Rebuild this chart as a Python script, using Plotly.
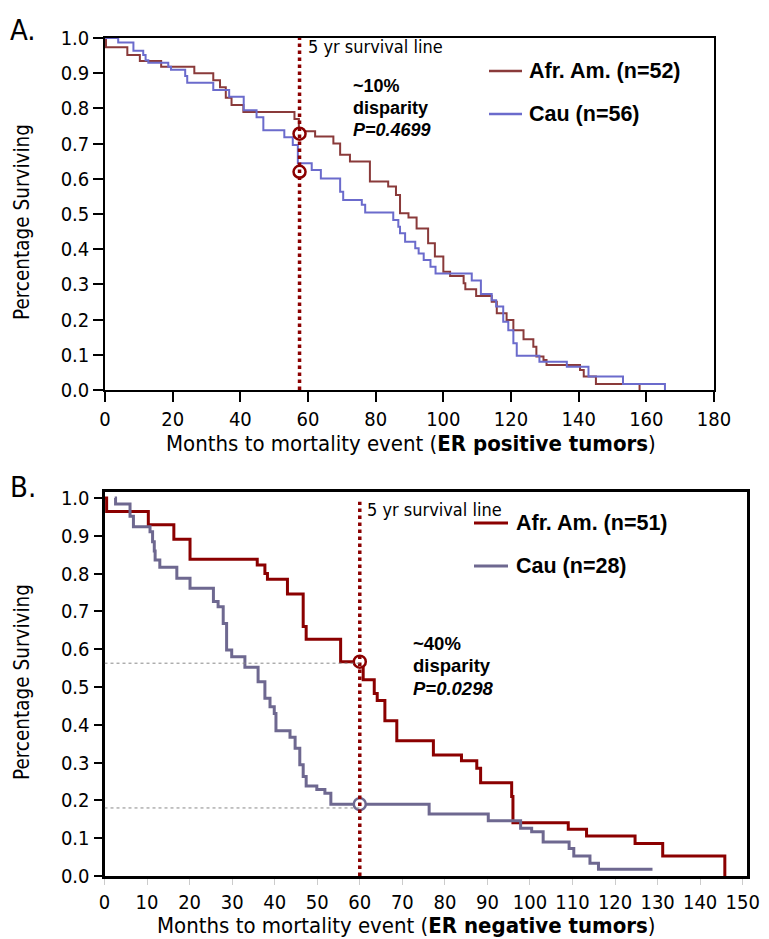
import plotly.graph_objects as go

# ---------------- Data ----------------
# Panel A: ER positive tumors
a_afr_t = [0, 0.3, 6.6, 10.3, 16.6, 26.4, 32, 34, 35.7, 37.4, 40.9, 56, 57.3, 62.1, 67.5, 69.5,
           72.4, 78.3, 83.7, 86, 87.2, 89.7, 92.1, 95.5, 97.5, 100, 102, 106, 106.5, 109.7,
           114.3, 115.8, 118.7, 120.7, 123.7, 126.6, 127.5, 129.6, 130.5, 140.4, 141.5, 145.1, 158]
a_afr_s = [1.0, 0.974, 0.952, 0.935, 0.918, 0.90, 0.88, 0.86, 0.83, 0.81, 0.79, 0.77, 0.735, 0.72, 0.70, 0.668,
           0.649, 0.592, 0.578, 0.554, 0.502, 0.49, 0.459, 0.417, 0.379, 0.336, 0.324, 0.303, 0.286, 0.267,
           0.251, 0.218, 0.199, 0.17, 0.144, 0.123, 0.095, 0.085, 0.071, 0.057, 0.038, 0.017, 0.0]
a_cau_t = [0, 3.9, 8.4, 11.3, 12, 12.8, 18.7, 19.5, 23.7, 24.3, 32, 36.7, 41, 44.8, 46.8, 53, 55.5, 57,
           61.1, 63.8, 69.5, 70.4, 75.9, 76.9, 85.2, 86.7, 87.2, 88.7, 91.7, 92.7, 94.2, 96.2, 97.7,
           108.4, 111.1, 114.3, 115.6, 117.7, 119.2, 120.7, 121.7, 128.4, 136.5, 142.9, 153.1, 165.5]
a_cau_s = [1.0, 0.987, 0.964, 0.952, 0.937, 0.93, 0.918, 0.91, 0.892, 0.873, 0.852, 0.833, 0.795, 0.775, 0.738, 0.718, 0.696, 0.644,
           0.625, 0.601, 0.563, 0.54, 0.526, 0.504, 0.483, 0.464, 0.445, 0.421, 0.403, 0.388, 0.369, 0.35, 0.331,
           0.311, 0.273, 0.255, 0.237, 0.194, 0.17, 0.133, 0.097, 0.08, 0.066, 0.038, 0.017, 0.0]

# Panel B: ER negative tumors
b_afr_t = [0, 0.5, 10.3, 16.3, 20.1, 35.9, 37.7, 38.3, 43.0, 46.7, 47.4, 55.5, 60.8, 63.4, 64.1, 65.9,
           68.7, 77.3, 83.9, 87.5, 88.4, 95.7, 96.0, 109.0, 113.3, 124.7, 131.2, 145.8]
b_afr_s = [1.0, 0.964, 0.929, 0.891, 0.838, 0.823, 0.80, 0.785, 0.746, 0.66, 0.626, 0.567, 0.519, 0.483, 0.464, 0.411,
           0.358, 0.32, 0.305, 0.285, 0.247, 0.21, 0.141, 0.124, 0.106, 0.086, 0.053, 0.0]
b_cau_t = [2.4, 2.6, 6.0, 6.8, 10.7, 11.3, 11.7, 11.9, 13.0, 17.0, 20.1, 25.6, 26.7, 27.9, 28.7, 29.9,
           33.0, 36.1, 37.7, 38.9, 39.9, 40.3, 43.6, 44.8, 45.9, 46.7, 47.4, 49.9, 51.8, 53.2,
           76.3, 90.2, 97.8, 100.4, 103.1, 109.2, 110.3, 114.1, 116.1, 128.8]
b_cau_s = [1.0, 0.984, 0.952, 0.924, 0.911, 0.884, 0.86, 0.836, 0.817, 0.788, 0.761, 0.726, 0.712, 0.668, 0.598, 0.58,
           0.552, 0.514, 0.47, 0.448, 0.43, 0.384, 0.367, 0.338, 0.294, 0.263, 0.238, 0.229, 0.219, 0.19,
           0.164, 0.146, 0.126, 0.117, 0.09, 0.073, 0.053, 0.034, 0.018, 0.018]

a_five_yr = 57.5
a_circle_s = [0.728, 0.62]
b_five_yr = 60
b_circle_afr = 0.567
b_circle_cau = 0.19
b_ref_levels = [0.563, 0.18]

a_xticks = list(range(0, 181, 20))
b_xticks = list(range(0, 151, 10))
yticks = [round(i * 0.1, 1) for i in range(11)]

# ---------------- Styling ----------------
W, H = 769, 939
OFF = 8  # page body margin offset
NARROW = "DejaVu Sans Condensed, Liberation Sans Narrow, Arial Narrow, sans-serif"
SANS = "Liberation Sans, Arial, Helvetica, sans-serif"
A_RED = "#8a3a3a"
A_BLUE = "#6b6bcc"
B_RED = "#8b0000"
B_BLUE = "#6e6890"
DRED = "#8b0000"


def px(x):
    return (x - OFF) / W


def py(y):
    return 1 - (y - OFF) / H


fig = go.Figure()

# Panel A traces
fig.add_trace(go.Scatter(x=a_afr_t, y=a_afr_s, mode="lines", line=dict(shape="hv", color=A_RED, width=2),
                         xaxis="x", yaxis="y", showlegend=False))
fig.add_trace(go.Scatter(x=a_cau_t, y=a_cau_s, mode="lines", line=dict(shape="hv", color=A_BLUE, width=2),
                         xaxis="x", yaxis="y", showlegend=False))
# Panel B traces
fig.add_trace(go.Scatter(x=b_afr_t, y=b_afr_s, mode="lines", line=dict(shape="hv", color=B_RED, width=3),
                         xaxis="x2", yaxis="y2", showlegend=False))
fig.add_trace(go.Scatter(x=b_cau_t, y=b_cau_s, mode="lines", line=dict(shape="hv", color=B_BLUE, width=3),
                         xaxis="x2", yaxis="y2", showlegend=False))

shapes = []
# 5-yr survival lines
shapes.append(dict(type="line", xref="x", yref="y", x0=a_five_yr, x1=a_five_yr, y0=0, y1=1.0,
                   line=dict(color=DRED, width=3.5, dash="dot")))
shapes.append(dict(type="line", xref="x2", yref="y2", x0=b_five_yr, x1=b_five_yr, y0=0, y1=0.99,
                   line=dict(color=DRED, width=3.5, dash="dot")))
# reference dotted lines B
for lv in b_ref_levels:
    shapes.append(dict(type="line", xref="x2", yref="y2", x0=0, x1=b_five_yr, y0=lv, y1=lv,
                       line=dict(color="#888888", width=1, dash="dot")))

# circles
fig.add_trace(go.Scatter(x=[a_five_yr] * 2, y=a_circle_s, mode="markers",
                         marker=dict(symbol="circle", size=12, color="white", line=dict(color=DRED, width=2.5)),
                         xaxis="x", yaxis="y", showlegend=False))
fig.add_trace(go.Scatter(x=[b_five_yr], y=[b_circle_afr], mode="markers",
                         marker=dict(symbol="circle", size=12, color="white", line=dict(color=B_RED, width=2.5)),
                         xaxis="x2", yaxis="y2", showlegend=False))
fig.add_trace(go.Scatter(x=[b_five_yr], y=[b_circle_cau], mode="markers",
                         marker=dict(symbol="circle", size=12, color="white", line=dict(color=B_BLUE, width=2.5)),
                         xaxis="x2", yaxis="y2", showlegend=False))

# legend lines (paper coords)
shapes.append(dict(type="line", xref="paper", yref="paper", x0=px(489), x1=px(522), y0=py(71), y1=py(71),
                   line=dict(color=A_RED, width=2.5)))
shapes.append(dict(type="line", xref="paper", yref="paper", x0=px(489), x1=px(522), y0=py(114), y1=py(114),
                   line=dict(color=A_BLUE, width=2.5)))
shapes.append(dict(type="line", xref="paper", yref="paper", x0=px(474), x1=px(508), y0=py(523), y1=py(523),
                   line=dict(color=B_RED, width=3)))
shapes.append(dict(type="line", xref="paper", yref="paper", x0=px(474), x1=px(508), y0=py(566), y1=py(566),
                   line=dict(color=B_BLUE, width=3)))

ann = []


def txt(x, y, text, size, family=SANS, xanchor="left", yanchor="middle", angle=0, color="black"):
    ann.append(dict(xref="paper", yref="paper", x=px(x), y=py(y), text=text, showarrow=False,
                    xanchor=xanchor, yanchor=yanchor, textangle=angle,
                    font=dict(size=size, family=family, color=color)))


txt(8, 30, "A.", 29, family=NARROW)
txt(8, 487, "B.", 29, family=NARROW)
txt(306, 46, "5 yr survival line", 18, family=NARROW)
txt(365, 509, "5 yr survival line", 18, family=NARROW)
txt(351, 86, "<b>~10%</b>", 18)
txt(351, 108, "<b>disparity</b>", 18)
txt(351, 130, "<b><i>P=0.4699</i></b>", 18)
txt(411, 643, "<b>~40%</b>", 18.5)
txt(411, 665, "<b>disparity</b>", 18.5)
txt(411, 688, "<b><i>P=0.0298</i></b>", 18.5)
txt(527, 71, "<b>Afr. Am. (n=52)</b>", 21.5)
txt(527, 114, "<b>Cau (n=56)</b>", 21.5)
txt(514, 523, "<b>Afr. Am. (n=51)</b>", 21.5)
txt(514, 566, "<b>Cau (n=28)</b>", 21.5)
txt(22, 222, "Percentage Surviving", 20.5, family=NARROW, xanchor="center", angle=-90)
txt(22, 682, "Percentage Surviving", 20.5, family=NARROW, xanchor="center", angle=-90)
txt(411, 443, "Months to mortality event (<b>ER positive tumors</b>)", 22, family=NARROW, xanchor="center")
txt(406, 925, "Months to mortality event (<b>ER negative tumors</b>)", 22, family=NARROW, xanchor="center")

tickfont = dict(size=20, family=NARROW, color="black")
common = dict(showgrid=False, zeroline=False, automargin=False, tickfont=tickfont, showline=True,
              linecolor="black", mirror=True)

fig.update_layout(
    template="none",
    width=W, height=H, margin=dict(l=0, r=0, t=0, b=0, pad=0),
    paper_bgcolor="white", plot_bgcolor="white",
    shapes=shapes, annotations=ann,
    xaxis=dict(domain=[px(105), px(714)], range=[0, 180], tickvals=a_xticks, ticks="outside", ticklen=10,
               tickwidth=1.5, tickcolor="black", linewidth=1.5, anchor="y", **common),
    yaxis=dict(domain=[py(390), py(38)], range=[0, 1.0], tickvals=yticks, tickformat=".1f", ticks="outside",
               ticklen=10, tickwidth=1.5, tickcolor="black", linewidth=1.5, anchor="x", **common),
    xaxis2=dict(domain=[px(104.5), px(747)], range=[0, 150 + (747 - 742.7) / 4.255], tickvals=b_xticks,
                ticks="outside", ticklen=6, tickwidth=1, tickcolor="#cccccc", linewidth=3, anchor="y2", **common),
    yaxis2=dict(domain=[py(876), py(492)], range=[0, (876 - 492) / 378], tickvals=yticks, tickformat=".1f",
                ticks="outside", ticklen=8, tickwidth=1.5, tickcolor="black", linewidth=3, anchor="x2", **common),
)

fig.write_html("out.html")
